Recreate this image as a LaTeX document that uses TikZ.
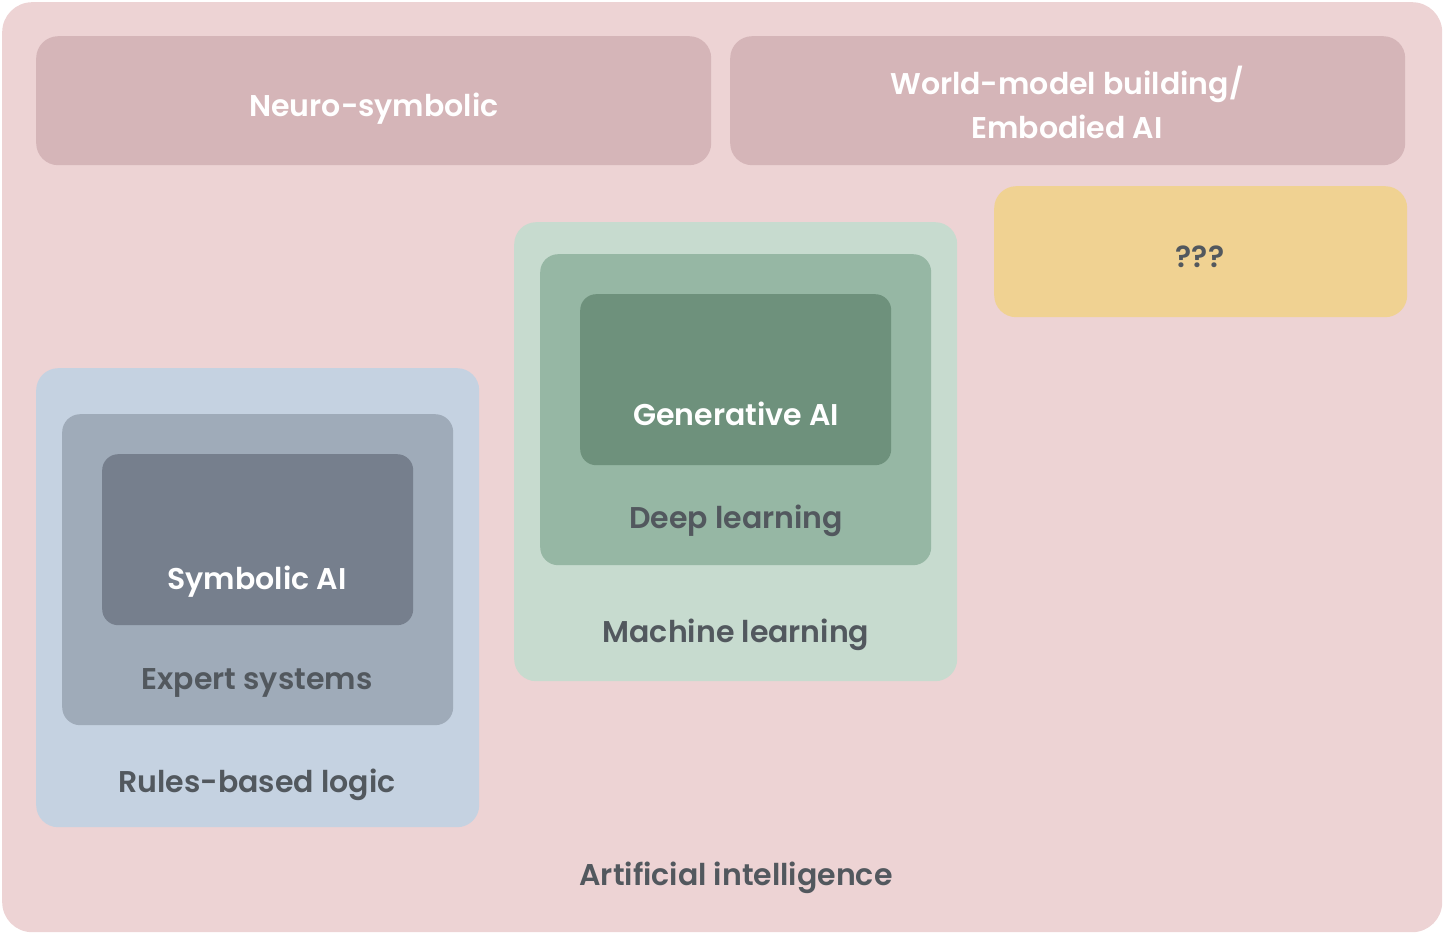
\documentclass[tikz,border=0pt]{standalone}
\usepackage{fontspec}
\setmainfont{Poppins}[BoldFont={* SemiBold}]
\usepackage{tikz}
\usetikzlibrary{positioning}
\definecolor{aiPink}    {RGB}{237, 211, 212}
\definecolor{aiRose}    {RGB}{213, 181, 184}
\definecolor{aiSand}    {RGB}{240, 210, 146}
\definecolor{aiSlateA}  {RGB}{197, 210, 225}
\definecolor{aiSlateB}  {RGB}{159, 171, 185}
\definecolor{aiSlateC}  {RGB}{118, 127, 141}
\definecolor{aiSageA}   {RGB}{199, 219, 207}
\definecolor{aiSageB}   {RGB}{150, 183, 164}
\definecolor{aiSageC}   {RGB}{110, 145, 124}
\definecolor{aiInk}     {RGB}{ 82,  88,  94}

\begin{document}
\begin{tikzpicture}[
  x=1pt, y=-1pt,
  font=\fontsize{30}{44}\selectfont\bfseries,
  panel/.style={anchor=north west, inner sep=0pt, rounded corners=22pt},
  lbl/.style={text=aiInk, align=center},
  lblw/.style={text=white, align=center},
]
  \useasboundingbox (0,0) rectangle (1444,934);

  % Outer field and the three open areas
  \node[panel, fill=aiPink, rounded corners=30pt, minimum width=1440pt, minimum height=930pt] (ai) at (2,2) {};
  \node[panel, fill=aiRose, minimum width=675pt, minimum height=129pt] (neuro) at (36,36) {};
  \node[panel, fill=aiRose, minimum width=675pt, minimum height=129pt] (world) at (730,36) {};
  \node[panel, fill=aiSand, minimum width=413pt, minimum height=131pt] (unknown) at (994,186) {};

  % Symbolic branch
  \node[panel, fill=aiSlateA, minimum width=443pt, minimum height=459pt] (rules)  at (36,368) {};
  \node[panel, fill=aiSlateB, minimum width=391pt, minimum height=311pt, rounded corners=18pt] (expert) at (62,414) {};
  \node[panel, fill=aiSlateC, minimum width=311pt, minimum height=171pt, rounded corners=16pt] (symb)   at (102,454) {};

  % Learning branch
  \node[panel, fill=aiSageA, minimum width=443pt, minimum height=459pt] (ml)  at (514,222) {};
  \node[panel, fill=aiSageB, minimum width=391pt, minimum height=311pt, rounded corners=18pt] (dl)  at (540,254) {};
  \node[panel, fill=aiSageC, minimum width=311pt, minimum height=171pt, rounded corners=16pt] (gen) at (580,294) {};

  % Labels
  \node[lblw] (neuroLbl) at (374,109) {Neuro-symbolic};
  \node[lblw] (worldLbl) at (1067,102) {World-model building/\\Embodied AI};
  \node[lbl]  (unknownLbl) at (1200,257) {???};

  \node[lblw] (symbLbl)   at (257,582) {Symbolic AI};
  \node[lbl]  (expertLbl) at (257,683) {Expert systems};
  \node[lbl]  (rulesLbl)  at (257,785) {Rules-based logic};

  \node[lblw] (genLbl) at (736,414) {Generative AI};
  \node[lbl]  (dlLbl)  at (736,521) {Deep learning};
  \node[lbl]  (mlLbl)  at (736,635) {Machine learning};

  \node[lbl] (aiLbl) at (736,878) {Artificial intelligence};
\end{tikzpicture}
\end{document}
